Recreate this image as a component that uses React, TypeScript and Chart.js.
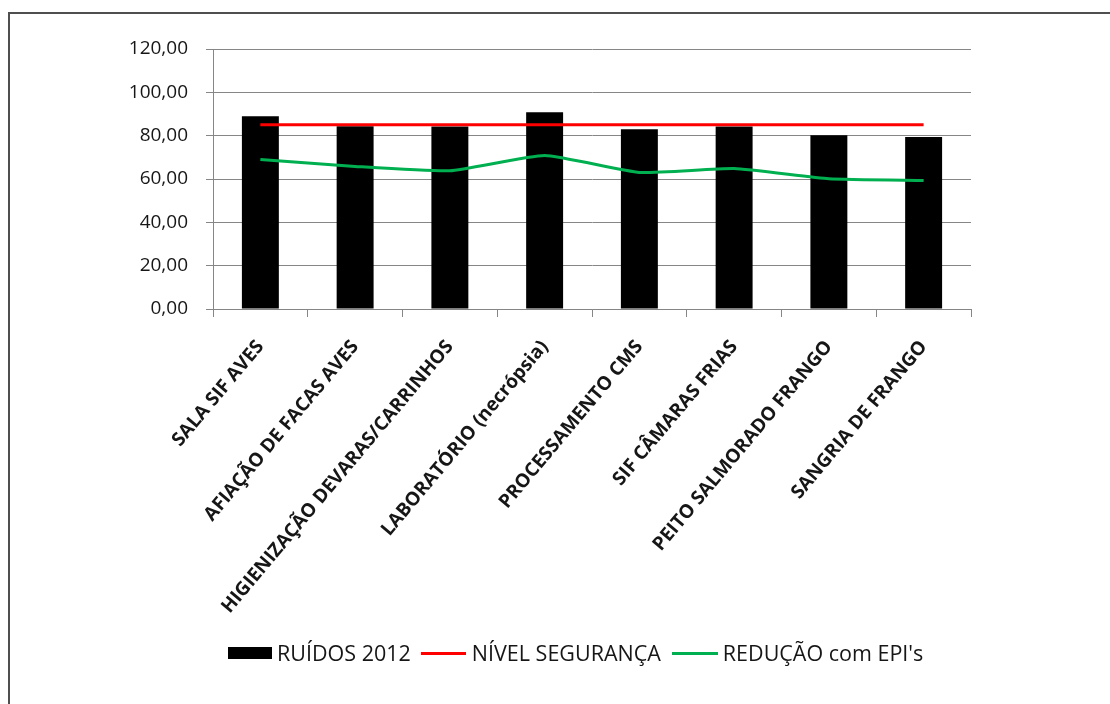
import React, { useEffect, useRef } from "react";
import { Chart, registerables } from "chart.js";

Chart.register(...registerables);

const categories = [
  "SALA SIF AVES",
  "AFIAÇÃO DE FACAS AVES",
  "HIGIENIZAÇÃO DEVARAS/CARRINHOS",
  "LABORATÓRIO (necrópsia)",
  "PROCESSAMENTO CMS",
  "SIF CÂMARAS FRIAS",
  "PEITO SALMORADO FRANGO",
  "SANGRIA DE FRANGO",
];
const ruidos2012 = [89.0, 84.3, 84.2, 90.8, 83.0, 84.2, 80.2, 79.4];
const nivelSeguranca = [85, 85, 85, 85, 85, 85, 85, 85];
const reducaoEPI = [69.0, 65.8, 63.8, 70.8, 63.0, 64.8, 60.1, 59.3];
const seriesNames = ["RUÍDOS 2012", "NÍVEL SEGURANÇA", "REDUÇÃO com EPI's"];
const seriesColors = ["#000000", "#FF0000", "#00B050"];
const yMin = 0;
const yMax = 120;
const yStep = 20;

const FONT = "'Open Sans', 'DejaVu Sans', sans-serif";
const TEXT = "#161616";
const AXIS = "#868686";

export default function App() {
  const ref = useRef<HTMLCanvasElement>(null);

  useEffect(() => {
    const chart = new Chart(ref.current as HTMLCanvasElement, {
      type: "bar",
      data: {
        labels: categories,
        datasets: [
          {
            type: "bar",
            label: seriesNames[0],
            data: ruidos2012,
            backgroundColor: seriesColors[0],
            borderWidth: 0,
            barPercentage: 0.39,
            categoryPercentage: 1,
            order: 3,
          } as any,
          {
            type: "line",
            label: seriesNames[1],
            data: nivelSeguranca,
            borderColor: seriesColors[1],
            backgroundColor: seriesColors[1],
            borderWidth: 3,
            pointRadius: 0,
            tension: 0,
            order: 1,
          } as any,
          {
            type: "line",
            label: seriesNames[2],
            data: reducaoEPI,
            borderColor: seriesColors[2],
            backgroundColor: seriesColors[2],
            borderWidth: 3,
            pointRadius: 0,
            tension: 0.15,
            order: 2,
          } as any,
        ],
      },
      options: {
        responsive: false,
        animation: false,
        devicePixelRatio: 1,
        layout: { padding: { top: 49, right: 139, left: 0, bottom: 0 } },
        plugins: {
          legend: { display: false },
          tooltip: { enabled: false },
        },
        scales: {
          x: {
            offset: true,
            grid: {
              display: true,
              drawOnChartArea: false,
              drawTicks: true,
              tickLength: 8,
              color: AXIS,
              offset: true,
            },
            border: { display: true, color: AXIS, width: 1 },
            ticks: {
              autoSkip: false,
              maxRotation: 50,
              minRotation: 50,
              padding: 19,
              color: TEXT,
              font: { family: FONT, size: 19, weight: "bold" },
            },
            afterFit: (s: any) => {
              s.height = 395;
            },
          },
          y: {
            min: yMin,
            max: yMax,
            ticks: {
              stepSize: yStep,
              padding: 18,
              color: TEXT,
              font: { family: FONT, size: 19 },
              callback: (v: any) => Number(v).toFixed(2).replace(".", ","),
            },
            grid: { color: AXIS, lineWidth: 1, tickLength: 7 },
            border: { display: true, color: AXIS, width: 1 },
            afterFit: (s: any) => {
              s.width = 213;
            },
          },
        },
      } as any,
    });
    return () => chart.destroy();
  }, []);

  const legendText: React.CSSProperties = {
    fontFamily: FONT,
    fontSize: 21.5,
    color: TEXT,
    whiteSpace: "nowrap",
    lineHeight: "30px",
  };

  return (
    <div
      style={{
        position: "fixed",
        left: 0,
        top: 0,
        width: 1110,
        height: 704,
        overflow: "hidden",
        background: "#ffffff",
      }}
    >
      <div
        style={{
          position: "absolute",
          left: 8,
          top: 12,
          width: 1200,
          height: 800,
          border: "2px solid #4f4f4f",
          boxSizing: "border-box",
        }}
      />
      <canvas
        ref={ref}
        width={1110}
        height={704}
        style={{ position: "absolute", left: 0, top: 0, width: 1110, height: 704 }}
      />
      <div
        style={{
          position: "absolute",
          left: 228,
          top: 638,
          height: 30,
          display: "flex",
          alignItems: "center",
        }}
      >
        <span style={{ display: "inline-block", width: 44, height: 12, background: seriesColors[0] }} />
        <span style={{ ...legendText, marginLeft: 5 }}>{seriesNames[0]}</span>
        <span style={{ display: "inline-block", width: 45, height: 3, background: seriesColors[1], marginLeft: 10 }} />
        <span style={{ ...legendText, marginLeft: 6 }}>{seriesNames[1]}</span>
        <span style={{ display: "inline-block", width: 46, height: 3, background: seriesColors[2], marginLeft: 11 }} />
        <span style={{ ...legendText, marginLeft: 5 }}>{seriesNames[2]}</span>
      </div>
    </div>
  );
}
